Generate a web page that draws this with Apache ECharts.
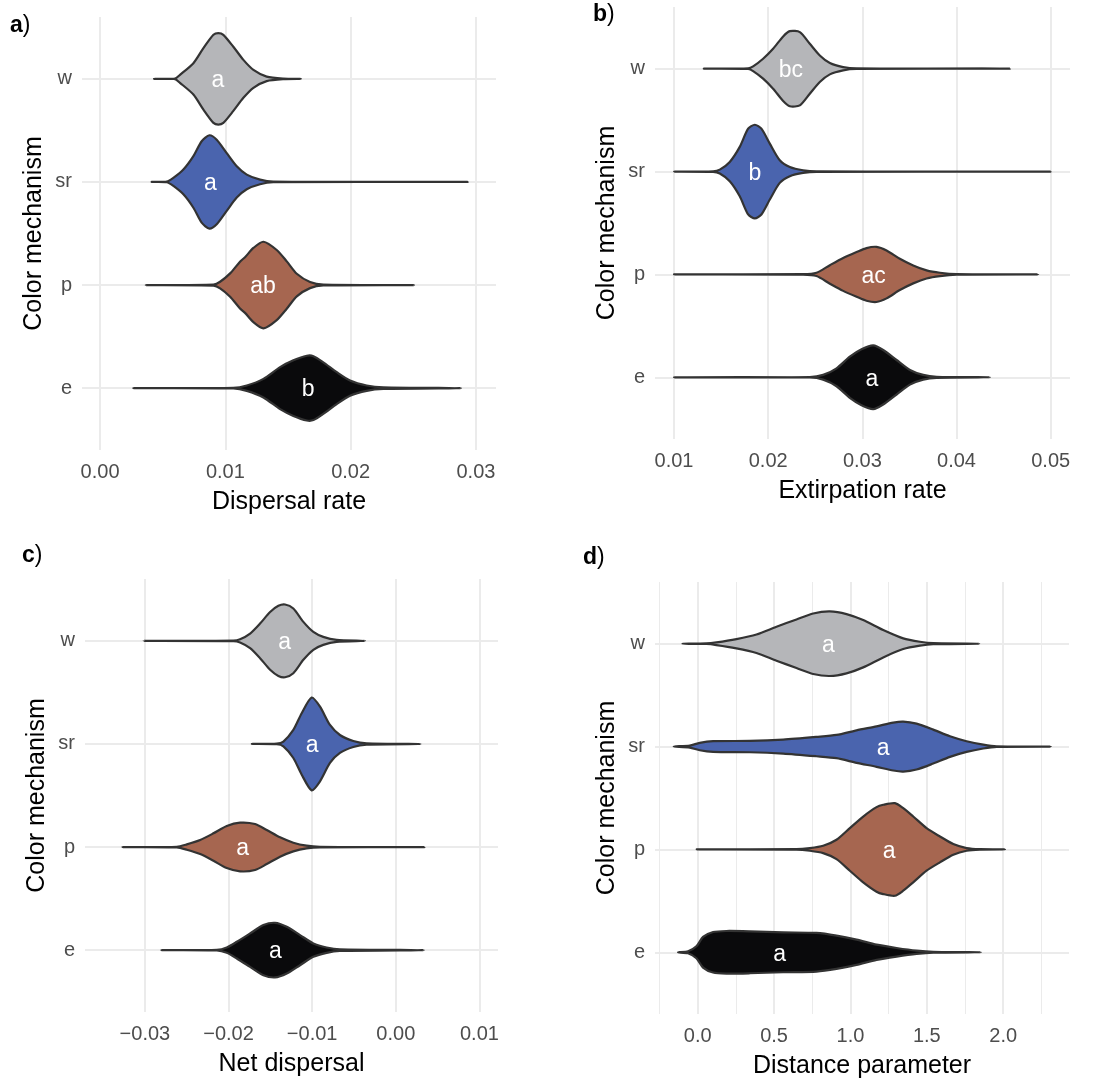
<!DOCTYPE html>
<html>
<head>
<meta charset="utf-8">
<script src="https://cdn.jsdelivr.net/npm/echarts@6/dist/echarts.min.js"></script>
<style>
  html, body { margin: 0; padding: 0; background: #fff; }
  #chart { width: 1100px; height: 1081px; }
</style>
</head>
<body>
<div id="chart"></div>
<script>
// categories, bottom to top
var mechanisms = ['e', 'p', 'sr', 'w'];
var fills = ['#0a0a0c', '#a66650', '#4a64ae', '#b5b6b9'];

// violin outlines: [value, half width in category units]
var dispersalE = [[0.00266,0],[0.01064,0.003],[0.01171,0.026],[0.01304,0.09],[0.01437,0.204],[0.01543,0.27],[0.0165,0.314],[0.01703,0.31],[0.01782,0.25],[0.01889,0.155],[0.01995,0.074],[0.02128,0.026],[0.02261,0.008],[0.02881,0]];
var dispersalP = [[0.00365,0],[0.00905,0.005],[0.00958,0.032],[0.01038,0.113],[0.01117,0.227],[0.01157,0.27],[0.01224,0.36],[0.01304,0.42],[0.0141,0.34],[0.0149,0.23],[0.0157,0.11],[0.01676,0.03],[0.01782,0.004],[0.02506,0]];
var dispersalSr = [[0.00412,0],[0.00532,0.003],[0.00585,0.039],[0.00665,0.12],[0.00745,0.25],[0.00811,0.395],[0.00873,0.453],[0.00931,0.41],[0.01011,0.28],[0.01091,0.152],[0.01171,0.071],[0.01277,0.022],[0.01383,0.003],[0.02934,0]];
var dispersalW = [[0.00431,0],[0.00599,0.003],[0.00638,0.039],[0.00745,0.152],[0.00825,0.298],[0.00905,0.427],[0.00944,0.444],[0.00984,0.427],[0.01064,0.311],[0.01144,0.184],[0.01224,0.087],[0.0133,0.022],[0.01463,0.003],[0.01604,0]];

var extirpationE = [[0.01,0],[0.02442,0.002],[0.02584,0.023],[0.02726,0.087],[0.02867,0.2],[0.02991,0.272],[0.03115,0.31],[0.03221,0.265],[0.03363,0.168],[0.03505,0.071],[0.03646,0.023],[0.03788,0.005],[0.04355,0]];
var extirpationP = [[0.01,0],[0.02371,0.002],[0.02513,0.016],[0.02655,0.09],[0.02796,0.16],[0.02938,0.217],[0.03044,0.256],[0.0315,0.268],[0.03257,0.233],[0.03398,0.152],[0.0354,0.087],[0.03682,0.039],[0.03824,0.016],[0.04001,0.003],[0.04868,0]];
var extirpationSr = [[0.01,0],[0.01415,0.003],[0.01486,0.019],[0.01592,0.094],[0.01698,0.24],[0.01787,0.417],[0.01858,0.455],[0.01928,0.417],[0.02017,0.272],[0.02123,0.11],[0.0223,0.045],[0.02371,0.013],[0.02513,0.002],[0.05,0]];
var extirpationW = [[0.01316,0],[0.01787,0.003],[0.0184,0.023],[0.01946,0.097],[0.02052,0.194],[0.02159,0.314],[0.0223,0.365],[0.02336,0.356],[0.02442,0.243],[0.02548,0.129],[0.02655,0.055],[0.02796,0.016],[0.02938,0.003],[0.04567,0]];

var netE = [[-0.02801,0],[-0.0214,0.003],[-0.02021,0.026],[-0.01901,0.081],[-0.01742,0.162],[-0.01583,0.243],[-0.01444,0.265],[-0.01304,0.227],[-0.01145,0.146],[-0.00986,0.065],[-0.00827,0.026],[-0.00668,0.008],[0.00335,0]];
var netP = [[-0.03267,0],[-0.02618,0.003],[-0.02499,0.026],[-0.02339,0.068],[-0.0218,0.133],[-0.02021,0.204],[-0.01862,0.236],[-0.01683,0.223],[-0.01543,0.165],[-0.01384,0.094],[-0.01225,0.042],[-0.01066,0.013],[-0.00906,0.003],[0.00343,0]];
var netSr = [[-0.01722,0],[-0.01424,0.003],[-0.01344,0.023],[-0.01225,0.136],[-0.01125,0.298],[-0.01006,0.45],[-0.00906,0.362],[-0.00787,0.184],[-0.00668,0.087],[-0.00508,0.029],[-0.00349,0.006],[0.00296,0]];
var netW = [[-0.03016,0],[-0.01941,0.003],[-0.01862,0.016],[-0.01742,0.071],[-0.01623,0.168],[-0.01503,0.28],[-0.01404,0.34],[-0.01324,0.353],[-0.01225,0.314],[-0.01105,0.184],[-0.00986,0.087],[-0.00867,0.039],[-0.00707,0.01],[-0.00369,0]];

var distanceE = [[-0.1289,0],[-0.0634,0.01],[-0.0087,0.058],[0.0349,0.149],[0.1005,0.197],[0.1879,0.207],[0.3408,0.204],[0.5592,0.194],[0.7776,0.188],[0.9087,0.162],[1.0398,0.123],[1.1708,0.074],[1.3019,0.042],[1.433,0.016],[1.5422,0.004],[1.8545,0]];
var distanceP = [[-0.0066,0],[0.6466,0.002],[0.7339,0.013],[0.8213,0.036],[0.9087,0.094],[0.996,0.207],[1.0834,0.32],[1.1708,0.411],[1.2145,0.434],[1.291,0.45],[1.3456,0.401],[1.4111,0.32],[1.4985,0.207],[1.5859,0.126],[1.6732,0.052],[1.7606,0.013],[1.848,0.002],[2.0118,0]];
var distanceSr = [[-0.1573,0],[-0.0524,0.01],[0.0131,0.036],[0.1005,0.052],[0.3408,0.055],[0.5592,0.068],[0.7776,0.094],[0.9087,0.113],[1.0398,0.158],[1.1708,0.197],[1.28,0.233],[1.3455,0.243],[1.433,0.223],[1.5421,0.165],[1.6514,0.1],[1.7606,0.052],[1.8698,0.019],[1.9572,0.003],[2.3132,0]];
var distanceW = [[-0.1005,0],[0.0568,0.003],[0.1223,0.013],[0.2534,0.045],[0.3845,0.09],[0.5155,0.165],[0.6466,0.236],[0.7558,0.294],[0.865,0.314],[0.9743,0.288],[1.0834,0.23],[1.2145,0.133],[1.3456,0.052],[1.4548,0.019],[1.5422,0.005],[1.8436,0]];

// letters (e, p, sr, w) and where they sit
var dispersalLetters = ['b', 'ab', 'a', 'a'];
var dispersalLetterX = [0.0166, 0.013, 0.0088, 0.0094];
var extirpationLetters = ['a', 'ac', 'b', 'bc'];
var extirpationLetterX = [0.031, 0.0312, 0.0186, 0.0224];
var netLetters = ['a', 'a', 'a', 'a'];
var netLetterX = [-0.0144, -0.0183, -0.01, -0.0133];
var distanceLetters = ['a', 'a', 'a', 'a'];
var distanceLetterX = [0.537, 1.254, 1.2145, 0.856];

// tick values
var dispersalTicks = [0, 0.01, 0.02, 0.03];
var dispersalMinor = [0.005, 0.015, 0.025];
var extirpationTicks = [0.01, 0.02, 0.03, 0.04, 0.05];
var extirpationMinor = [0.015, 0.025, 0.035, 0.045];
var netTicks = [-0.03, -0.02, -0.01, 0, 0.01];
var netMinor = [-0.035, -0.025, -0.015, -0.005, 0.005];
var distanceTicks = [0, 0.5, 1, 1.5, 2];
var distanceMinor = [-0.25, 0.25, 0.75, 1.25, 1.75, 2.25];
var catTicks = [1, 2, 3, 4];

var FONT = 'Liberation Sans, Arial, Helvetica, sans-serif';

var panels = [
  { tag: 'a', name: 'Dispersal rate', grid: {left: 82, top: 17, width: 414, height: 433}, min: -0.00144, max: 0.0316, dec: 2,
    shapes: [dispersalE, dispersalP, dispersalSr, dispersalW], letters: dispersalLetters, letterX: dispersalLetterX,
    ticks: dispersalTicks, minor: dispersalMinor, tagPos: [10, 26] },
  { tag: 'b', name: 'Extirpation rate', grid: {left: 655, top: 7, width: 415, height: 432}, min: 0.00798, max: 0.05205, dec: 2,
    shapes: [extirpationE, extirpationP, extirpationSr, extirpationW], letters: extirpationLetters, letterX: extirpationLetterX,
    ticks: extirpationTicks, minor: extirpationMinor, tagPos: [593, 15] },
  { tag: 'c', name: 'Net dispersal', grid: {left: 85, top: 579, width: 413, height: 433}, min: -0.03716, max: 0.01222, dec: 2,
    shapes: [netE, netP, netSr, netW], letters: netLetters, letterX: netLetterX,
    ticks: netTicks, minor: netMinor, tagPos: [22, 556] },
  { tag: 'd', name: 'Distance parameter', grid: {left: 655, top: 582, width: 414, height: 432}, min: -0.2798, max: 2.431, dec: 1,
    shapes: [distanceE, distanceP, distanceSr, distanceW], letters: distanceLetters, letterX: distanceLetterX,
    ticks: distanceTicks, minor: distanceMinor, tagPos: [583, 558] }
];

var grids = [], xAxes = [], yAxes = [], series = [], graphics = [];

panels.forEach(function (p, idx) {
  grids.push(p.grid);
  xAxes.push({
    type: 'value', gridIndex: idx, min: p.min, max: p.max,
    name: p.name, nameLocation: 'middle', nameGap: 40,
    nameTextStyle: {fontSize: 25, color: '#000', fontFamily: FONT},
    axisLine: {show: false},
    axisTick: {show: false, customValues: p.ticks},
    axisLabel: {
      customValues: p.ticks, margin: 12, fontSize: 20, color: '#4d4d4d', fontFamily: FONT,
      formatter: function (v) { return v.toFixed(p.dec).replace('-', '\u2212'); }
    },
    splitLine: {show: true, lineStyle: {color: '#ebebeb', width: 2}}
  });
  yAxes.push({
    type: 'value', gridIndex: idx, min: 0.4, max: 4.6,
    name: 'Color mechanism', nameLocation: 'middle', nameGap: 35,
    nameTextStyle: {fontSize: 25, color: '#000', fontFamily: FONT},
    axisLine: {show: false},
    axisTick: {show: false, customValues: catTicks},
    axisLabel: {
      customValues: catTicks, margin: 10, fontSize: 20, color: '#4d4d4d', fontFamily: FONT,
      formatter: function (v) { return mechanisms[Math.round(v) - 1]; }
    },
    splitLine: {show: true, lineStyle: {color: '#ebebeb', width: 2}}
  });
  // minor vertical grid lines
  series.push({
    type: 'line', xAxisIndex: idx, yAxisIndex: idx, data: [], z: 0, silent: true,
    markLine: {
      z: 0, silent: true, symbol: ['none', 'none'], label: {show: false},
      lineStyle: {type: 'solid', color: '#ebebeb', width: 1},
      data: p.minor.map(function (v) { return {xAxis: v}; })
    }
  });
  // violins
  series.push({
    type: 'custom', xAxisIndex: idx, yAxisIndex: idx, z: 10, silent: true,
    data: mechanisms.map(function (m, i) { return [p.letterX[i], i + 1]; }),
    renderItem: function (params, api) {
      var i = params.dataIndex;
      var cat = i + 1;
      var shape = p.shapes[i];
      var pts = shape.map(function (d) { return api.coord([d[0], cat + d[1]]); });
      for (var k = shape.length - 2; k >= 1; k--) {
        pts.push(api.coord([shape[k][0], cat - shape[k][1]]));
      }
      var lp = api.coord([p.letterX[i], cat]);
      return {
        type: 'group',
        children: [
          {type: 'polygon', shape: {points: pts, smooth: 0.25},
           style: {fill: fills[i], stroke: '#333333', lineWidth: 2.2, lineJoin: 'round'}},
          {type: 'text', x: lp[0], y: lp[1] + 2,
           style: {text: p.letters[i], fill: '#ffffff', fontSize: 23, fontFamily: FONT,
                   align: 'center', verticalAlign: 'middle'}}
        ]
      };
    }
  });
  graphics.push({
    type: 'text', left: p.tagPos[0], top: p.tagPos[1] - 12,
    style: {text: '{b|' + p.tag + '})', fontSize: 23, fontFamily: FONT, fill: '#000',
            rich: {b: {fontWeight: 'bold', fontSize: 23, fontFamily: FONT}}}
  });
});

var chart = echarts.init(document.getElementById('chart'));
chart.setOption({
  backgroundColor: '#ffffff',
  animation: false,
  grid: grids,
  xAxis: xAxes,
  yAxis: yAxes,
  series: series,
  graphic: graphics
});
</script>
</body>
</html>
